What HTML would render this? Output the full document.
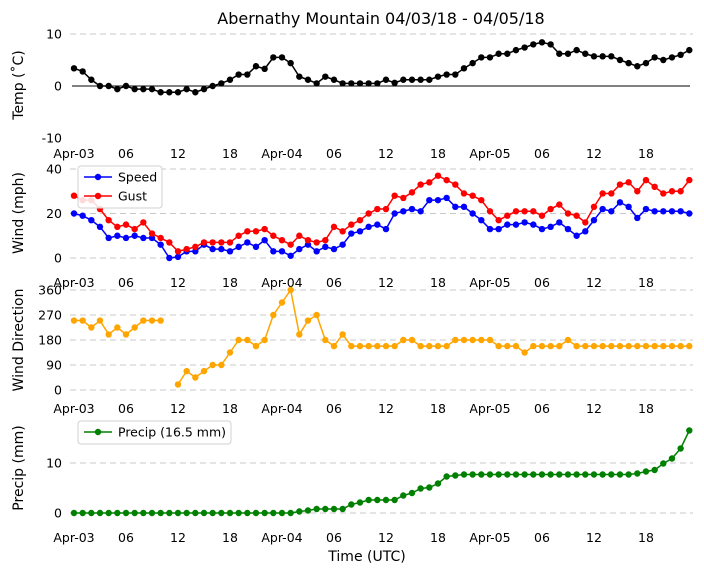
<!DOCTYPE html>
<html><head><meta charset="utf-8"><style>
html,body{margin:0;padding:0;background:#fff;}
svg{display:block;font-family:"DejaVu Sans","Liberation Sans",sans-serif;}
</style></head><body>
<svg id="chart" width="704" height="573" viewBox="0 0 704 573" xmlns="http://www.w3.org/2000/svg">
<text x="381" y="24" font-size="16" text-anchor="middle">Abernathy Mountain 04/03/18 - 04/05/18</text>
<text x="367" y="561" font-size="14" text-anchor="middle">Time (UTC)</text>
</svg>
<script>
const hours = Array.from({length:72},(_, i)=>i);
const xTickLabels = ["Apr-03","06","12","18","Apr-04","06","12","18","Apr-05","06","12","18"];
const xTickHours = [0,6,12,18,24,30,36,42,48,54,60,66];
const temp = [3.4,2.8,1.2,0,0,-0.6,0,-0.6,-0.6,-0.6,-1.2,-1.2,-1.2,-0.6,-1.2,-0.6,0,0.5,1.2,2.2,2.2,3.8,3.3,5.5,5.5,4.4,1.8,1.2,0.5,1.8,1.2,0.5,0.5,0.5,0.5,0.5,1.2,0.6,1.2,1.2,1.2,1.2,1.8,2.2,2.2,3.4,4.4,5.5,5.5,6.2,6.2,6.9,7.4,8,8.4,8,6.2,6.2,6.9,6.2,5.7,5.7,5.7,5,4.4,3.8,4.4,5.5,5,5.5,6,6.9];
const speed = [20,19,17,14,9,10,9,10,9,9,6,0,0.5,3,3,6,4,4,3,5,7,5,8,3,3,1,4,6,3,5,4,6,11,12,14,15,13,20,21,22,21,26,26,27,23,23,20,17,13,13,15,15,16,15,13,14,16,13,10,12,17,22,21,25,23,18,22,21,21,21,21,20];
const gust = [28,26,26,22,17,14,15,13,16,11,9,7,3,4,5,7,7,7,7,10,12,12,13,10,8,6,10,8,7,8,14,12,15,17,20,22,22,28,27,29.5,33,34,37,35,33,29,28,26,21,17,19,21,21,21,19,22,24,20,19,16,23,29,29,33,34,30,35,32,29,30,30,35];
const direction = [250,250,225,250,200,225,200,225,250,250,250,null,20,68,45,68,90,90,135,180,180,158,180,270,315,360,200,250,270,180,158,200,158,158,158,158,158,158,180,180,158,158,158,158,180,180,180,180,180,158,158,158,135,158,158,158,158,180,158,158,158,158,158,158,158,158,158,158,158,158,158,158];
const precip = [0,0,0,0,0,0,0,0,0,0,0,0,0,0,0,0,0,0,0,0,0,0,0,0,0,0,0.3,0.5,0.8,0.8,0.8,0.8,1.7,2.1,2.6,2.6,2.6,2.6,3.5,4,4.9,5.1,5.9,7.3,7.5,7.7,7.7,7.7,7.7,7.7,7.7,7.7,7.7,7.7,7.7,7.7,7.7,7.7,7.7,7.7,7.7,7.7,7.7,7.7,7.7,7.9,8.3,8.6,9.9,10.9,12.9,16.5];

const svg = document.getElementById('chart');
const NS = "http://www.w3.org/2000/svg";
function el(tag, attrs, parent){const e=document.createElementNS(NS,tag);for(const k in attrs)e.setAttribute(k,attrs[k]);(parent||svg).appendChild(e);return e;}
const xs = h => 74 + h*(615.3/71);
const X0=70, X1=693;

const panels = [
 {name:'temp', ymin:-10, ymax:10, ytop:34, ybot:138, ticks:[10,0,-10], grid:[10], label:'Temp (˚C)', labelY:85, xlabY:158},
 {name:'wind', ymin:0, ymax:40, ytop:169, ybot:258, ticks:[40,20,0], grid:[0,20,40], label:'Wind (mph)', labelY:213, xlabY:287},
 {name:'direction', ymin:0, ymax:360, ytop:290, ybot:390, ticks:[360,270,180,90,0], grid:[0,90,180,270,360], label:'Wind Direction', labelY:340, xlabY:413},
 {name:'precip', ymin:0, ymax:10, ytop:463, ybot:513, ticks:[10,0], grid:[0,10], label:'Precip (mm)', labelY:468, xlabY:542}
];
panels.forEach(p=>{p.y = v => p.ybot - (v-p.ymin)/(p.ymax-p.ymin)*(p.ybot-p.ytop);});

panels.forEach(p=>{
  const g = el('g',{});
  
  
  p.grid.forEach(v=>{
    const l=el('line',{x1:X0,x2:X1,y1:p.y(v),y2:p.y(v),stroke:'#c8c8c8','stroke-width':1,'stroke-dasharray':'6,4'},g);
    
    
  });
  p.ticks.forEach(v=>{
    const t=el('text',{x:62,y:p.y(v)+4.5,'font-size':12.5,'text-anchor':'end'},g);
    t.textContent=v;
    
    
  });
  xTickHours.forEach((h,i)=>{
    const t=el('text',{x:xs(h),y:p.xlabY,'font-size':12.5,'text-anchor':'middle'},g);
    t.textContent=xTickLabels[i];
    
    
  });
  const yl=el('text',{x:0,y:0,'font-size':14,'text-anchor':'middle',transform:`translate(23,${p.labelY}) rotate(-90)`},g);
  yl.textContent=p.label;
  
  
});

const zl=el('line',{x1:72,x2:690,y1:panels[0].y(0),y2:panels[0].y(0),stroke:'#000','stroke-width':1});



function series(p, data, color, name){
  const g=el('g',{});
  
  
  let seg=[];
  const segs=[];
  data.forEach((v,i)=>{ if(v===null){ if(seg.length)segs.push(seg); seg=[]; } else seg.push([xs(hours[i]),p.y(v)]); });
  if(seg.length)segs.push(seg);
  segs.forEach(s=>{
    const pl=el('polyline',{points:s.map(q=>q.join(',')).join(' '),fill:'none',stroke:color,'stroke-width':1.5},g);
    
    
  });
  data.forEach((v,i)=>{
    if(v===null)return;
    const c=el('circle',{cx:xs(hours[i]),cy:p.y(v),r:3.2,fill:color},g);
    
    
  });
}
series(panels[0], temp, '#000', 'temp');
series(panels[1], speed, '#0000ff', 'speed');
series(panels[1], gust, '#ff0000', 'gust');
series(panels[2], direction, '#ffa500', 'direction');
series(panels[3], precip, '#008000', 'precip');

function legend(x,y,w,h,items,name){
  const g=el('g',{});
  
  
  el('rect',{x:x,y:y,width:w,height:h,rx:3,fill:'#fff','fill-opacity':0.85,stroke:'#d0d0d0'},g);
  items.forEach((it,i)=>{
    const cy=y+11+i*19;
    el('line',{x1:x+6,x2:x+34,y1:cy,y2:cy,stroke:it.c,'stroke-width':1.5},g);
    el('circle',{cx:x+20,cy:cy,r:3.2,fill:it.c},g);
    const t=el('text',{x:x+40,y:cy+4.5,'font-size':12.5},g);
    t.textContent=it.t;
    
    
  });
}
legend(78,166,84,42,[{c:'#0000ff',t:'Speed'},{c:'#ff0000',t:'Gust'}],'wind-legend');
legend(78,421,153,23,[{c:'#008000',t:'Precip (16.5 mm)'}],'precip-legend');
</script>
</body></html>
